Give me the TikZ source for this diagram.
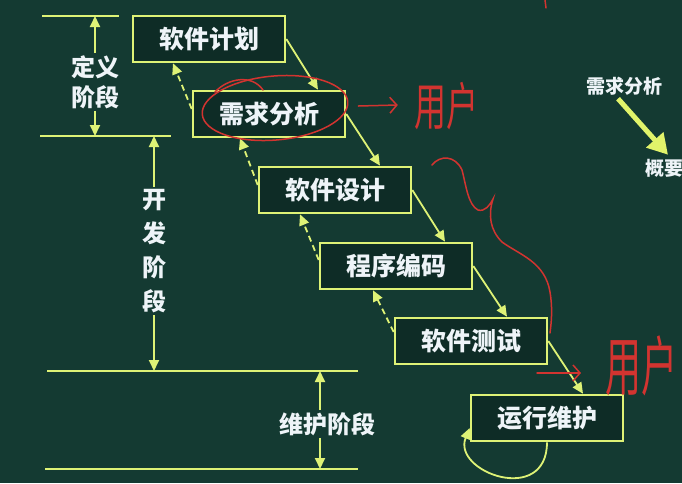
\documentclass[tikz,border=0pt]{standalone}
\usepackage{fontspec}
\setmainfont{Noto Sans CJK SC}
\usetikzlibrary{arrows.meta, positioning}

\definecolor{board}{RGB}{20,58,50}
\definecolor{boxfill}{RGB}{14,44,38}
\definecolor{chalk}{RGB}{222,242,118}
\definecolor{chalktext}{RGB}{238,244,248}
\definecolor{redpen}{RGB}{210,52,48}

\begin{document}
\begin{tikzpicture}[
    x=1pt, y=-1pt,
    stage/.style={rectangle, minimum width=152pt, minimum height=46pt, draw=chalk, line width=2.6pt, fill=boxfill, text=chalktext, font=\fontsize{25}{25}\selectfont\bfseries},
    phase/.style={text=chalktext, align=center, inner sep=2pt, font=\fontsize{24}{30}\selectfont\bfseries},
    arrow/.style={line width=1.8pt, draw=chalk, -{Triangle[length=11pt,width=10pt]}},
    back/.style={arrow, dash pattern=on 6pt off 4pt},
    phaseline/.style={line width=2.2pt, draw=chalk},
    bigarrow/.style={line width=5pt, draw=chalk!90!yellow, -{Triangle[length=20pt,width=22pt]}},
    pen/.style={line width=1.5pt, draw=redpen, line cap=round},
    hand/.style={text=redpen, inner sep=0pt},
]

    % board
    \fill [board] (0,0) rectangle (682,483);
    \useasboundingbox (0,0) rectangle (682,483);

    % phase lines
    \coordinate (h1_l) at (42,16);  \coordinate (h1_r) at (119,16);
    \coordinate (h2_l) at (40,136); \coordinate (h2_r) at (171,136);
    \coordinate (h3_l) at (47,371); \coordinate (h3_r) at (358,371);
    \coordinate (h4_l) at (45,469); \coordinate (h4_r) at (358,469);
    \draw [phaseline] (h1_l) -- (h1_r);
    \draw [phaseline] (h2_l) -- (h2_r);
    \draw [phaseline] (h3_l) -- (h3_r);
    \draw [phaseline] (h4_l) -- (h4_r);

    % phase labels
    \node (def_label) [phase] at (95,82) {定义\\阶段};
    \node (dev_label) [phase, font=\fontsize{24}{34}\selectfont\bfseries] at (154,251) {开\\发\\阶\\段};
    \node (mnt_label) [phase] at (327,424) {维护阶段};

    \coordinate (def_top) at (95,16);
    \coordinate (def_bot) at (95,136);
    \coordinate (dev_top) at (154,136);
    \coordinate (dev_bot) at (154,371);
    \coordinate (mnt_top) at (320,371);
    \coordinate (mnt_bot) at (320,469);

    \draw [arrow] (def_label) -- (def_top);
    \draw [arrow] (def_label) -- (def_bot);
    \draw [arrow] (dev_label) -- (dev_top);
    \draw [arrow] (dev_label) -- (dev_bot);
    \draw [arrow] (mnt_label.north -| mnt_top) -- (mnt_top);
    \draw [arrow] (mnt_label.south -| mnt_top) -- (mnt_bot);

    % waterfall stages
    \node (plan) [stage] at (209,39) {软件计划};
    \node (req) [stage] at (269,114) {需求分析};
    \node (design) [stage] at (335,190) {软件设计};
    \node (code) [stage] at (396,266) {程序编码};
    \node (test) [stage] at (471,341) {软件测试};
    \node (maint) [stage] at (547,418) {运行维护};

    \draw [arrow] (plan.east) -- ([xshift=49pt]req.north);
    \draw [arrow] (req.east) -- ([xshift=45pt]design.north);
    \draw [arrow] (design.east) -- ([xshift=49pt]code.north);
    \draw [arrow] (code.east) -- ([xshift=36pt]test.north);
    \draw [arrow] (test.east) -- ([xshift=36pt]maint.north);

    % feedback
    \draw [back] ([yshift=5pt]req.west) -- ([xshift=-36pt]plan.south);
    \draw [back] ([yshift=5pt]design.west) -- ([xshift=-29pt]req.south);
    \draw [back] ([yshift=6pt]code.west) -- ([xshift=-35pt]design.south);
    \draw [back] ([yshift=9pt]test.west) -- ([xshift=-23pt]code.south);
    \draw [arrow] (maint.south) .. controls +(0,64) and +(-18,44) .. ([yshift=-10pt]maint.west);

    % side note
    \node (side_req) [text=chalktext, font=\fontsize{19}{19}\selectfont\bfseries] at (624,86) {需求分析};
    \node (side_sum) [text=chalktext, font=\fontsize{19}{19}\selectfont\bfseries, anchor=west, inner sep=0pt] at (645,168) {概要};
    \draw [bigarrow] ([xshift=-6pt]side_req.south) -- ([xshift=23pt,yshift=4pt]side_sum.north west);

    % red pen notes
    \draw [pen, rotate around={5:(275,108)}] (275,108) ellipse (73pt and 32pt);
    \draw [pen] (215,92) .. controls (228,78) and (252,74) .. (263,90);
    \node (user_top) [hand, font=\fontsize{32}{32}\selectfont] at (446,106) {\scalebox{1}[1.6]{用户}};
    \draw [pen, -{Straight Barb[length=7pt,width=16pt]}] ([xshift=12pt,yshift=8pt]req.east) -- ([xshift=-16pt]user_top.west |- 0,105);
    \draw [pen] (432,165) .. controls (440,155) and (455,155) .. (462,170)
        .. controls (466,185) and (468,205) .. (478,210)
        .. controls (485,212) and (490,205) .. (493,199)
        .. controls (488,215) and (490,230) .. (502,242)
        .. controls (520,255) and (545,262) .. (550,292)
        .. controls (553,310) and (551,325) .. (550,333);
    \draw [pen] (545,0) -- (546,8);
    \node (user_low) [hand, font=\fontsize{36}{36}\selectfont, anchor=west] at (605,366) {\scalebox{1}[1.8]{用户}};
    \coordinate (note_start) at (537,373);
    \draw [pen, -{Straight Barb[length=7pt,width=16pt]}] (note_start) -- ([xshift=-24pt]user_low.west |- note_start);

\end{tikzpicture}
\end{document}
